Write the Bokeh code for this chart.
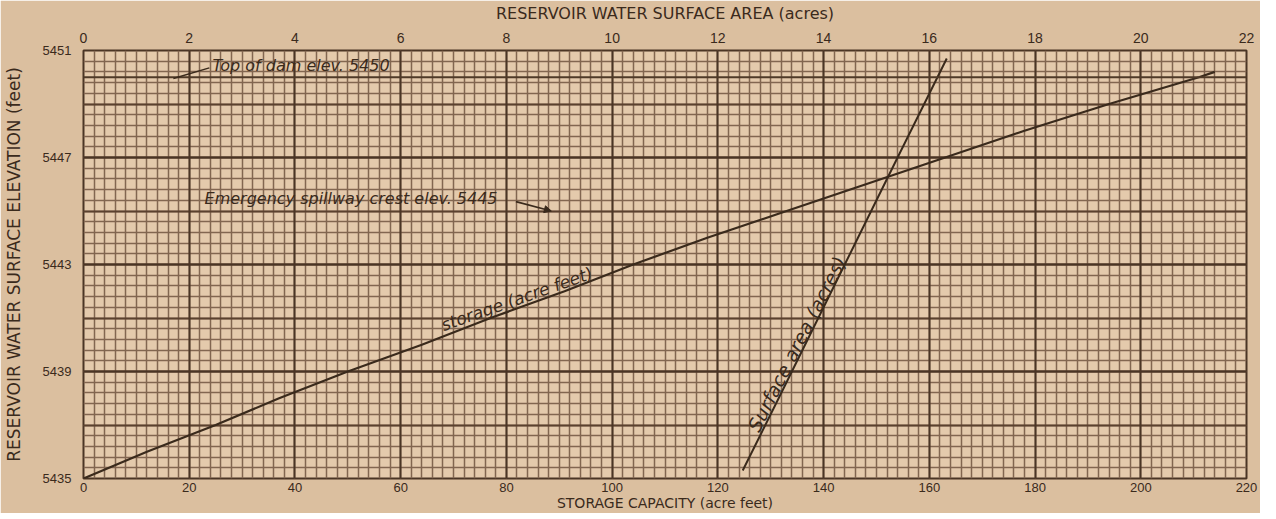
from bokeh.plotting import figure
from bokeh.models import (Range1d, LinearAxis, FixedTicker, SingleIntervalTicker,
                          Grid, Label, Arrow, NormalHead, Span)
from bokeh.embed import file_html
from bokeh.resources import INLINE

# ---- data ----
elevation = [5435, 5436, 5437, 5438, 5439, 5440, 5441, 5442, 5443,
             5444, 5445, 5446, 5447, 5448, 5449, 5450, 5450.2]
storage_acre_ft = [0, 12, 25, 37, 50, 64, 77, 91, 104,
                   118, 133, 148, 163, 178, 194, 211, 214]

area_elevation = [5435.3, 5438, 5441, 5444, 5447, 5450.7]
surface_area_acres = [12.47, 13.15, 13.9, 14.65, 15.4, 16.33]

capacity_ticks = [0, 20, 40, 60, 80, 100, 120, 140, 160, 180, 200, 220]
area_ticks = [0, 2, 4, 6, 8, 10, 12, 14, 16, 18, 20, 22]
elev_ticks = [5435, 5439, 5443, 5447, 5451]

top_of_dam = 5450
spillway_crest = 5445

INK = "#3a2a1c"
FONT = "Liberation Sans"
TITLE = "DejaVu Sans"
HAND = "DejaVu Sans"

p = figure(frame_width=1163, frame_height=428, output_backend="svg", toolbar_location=None,
           x_range=Range1d(0, 220), y_range=Range1d(5435, 5451),
           min_border_left=76, min_border_right=14, min_border_top=43, min_border_bottom=0)
p.background_fill_color = "#e4caac"
p.border_fill_color = "#dbbf9f"
p.outline_line_color = "#4a3525"
p.outline_line_width = 2
p.xgrid.visible = False
p.ygrid.visible = False

p.extra_x_ranges = {"area": Range1d(0, 22)}

# grids (graph paper)
ygrid_minor = [5435 + 0.4 * i for i in range(41)]
ygrid_mid = [5435 + 2 * i for i in range(9)]
ygrid_major = [5435 + 4 * i for i in range(5)]
for dim, tk, col, w in [
    (0, SingleIntervalTicker(interval=2), "#826650", 1.5),
    (1, FixedTicker(ticks=ygrid_minor), "#826650", 1.5),
    (1, FixedTicker(ticks=ygrid_mid), "#5a412e", 1.8),
    (0, SingleIntervalTicker(interval=20), "#4a3525", 2.0),
    (1, FixedTicker(ticks=ygrid_major), "#4a3525", 2.0),
]:
    g = Grid(dimension=dim, ticker=tk, grid_line_color=col, grid_line_width=w)
    p.add_layout(g)

# top of dam line
p.add_layout(Span(location=top_of_dam, dimension="width", line_color="#4f3a28", line_width=1.8))

# curves
p.line(storage_acre_ft, elevation, line_color=INK, line_width=2.2)
p.line(surface_area_acres, area_elevation, x_range_name="area", line_color=INK, line_width=2.0)

# axes
def style_axis(ax, size, lsize):
    ax.axis_line_color = None
    ax.major_tick_line_color = None
    ax.minor_tick_line_color = None
    ax.major_tick_out = 0
    ax.major_tick_in = 0
    ax.minor_tick_out = 0
    ax.minor_tick_in = 0
    ax.major_label_text_font = FONT
    ax.major_label_text_font_size = size
    ax.major_label_text_color = INK
    ax.axis_label_text_font = TITLE
    ax.axis_label_text_font_size = lsize
    ax.axis_label_text_font_style = "normal"
    ax.axis_label_text_color = INK

xb = p.xaxis[0]
xb.ticker = FixedTicker(ticks=capacity_ticks)
xb.axis_label = "STORAGE CAPACITY (acre feet)"
style_axis(xb, "13px", "14px")
xb.major_label_standoff = 4
xb.axis_label_standoff = 0

yl = p.yaxis[0]
yl.ticker = FixedTicker(ticks=elev_ticks)
yl.axis_label = "RESERVOIR WATER SURFACE ELEVATION (feet)"
style_axis(yl, "13px", "17px")
yl.major_label_standoff = 12
yl.axis_label_standoff = 16

top = LinearAxis(x_range_name="area", ticker=FixedTicker(ticks=area_ticks),
                 axis_label="RESERVOIR WATER SURFACE AREA (acres)")
style_axis(top, "14px", "16px")
top.major_label_standoff = 8
top.axis_label_standoff = 7
p.add_layout(top, "above")

# annotations
p.add_layout(Label(x=24.4, y=5450.1, text="Top of dam elev. 5450", text_font=HAND,
                   text_font_style="italic", text_font_size="16px", text_color=INK,
                   text_baseline="bottom"))
p.add_layout(Arrow(end=None, x_start=17.0, y_start=5449.95, x_end=23.8, y_end=5450.35,
                   line_color=INK, line_width=1.5))

p.add_layout(Label(x=22.9, y=5445.1, text="Emergency spillway crest elev. 5445", text_font=HAND,
                   text_font_style="italic", text_font_size="16px", text_color=INK,
                   text_baseline="bottom"))
p.add_layout(Arrow(end=NormalHead(size=7, fill_color=INK, line_color=INK),
                   x_start=81.8, y_start=5445.35, x_end=88.5, y_end=5445.0,
                   line_color=INK, line_width=1.6))

p.add_layout(Label(x=82.6, y=5441.36, text="storage (acre feet)", text_font=HAND,
                   text_font_style="italic", text_font_size="17px", text_color=INK,
                   text_align="center", text_baseline="bottom", angle=0.34))
p.add_layout(Label(x=13.68, y=5439.85, x_range_name="area", text="Surface area (acres)",
                   text_font=HAND, text_font_style="italic", text_font_size="19px",
                   text_color=INK, text_align="center", text_baseline="bottom", angle=1.1))

open("out.html", "w").write(file_html(p, INLINE))
